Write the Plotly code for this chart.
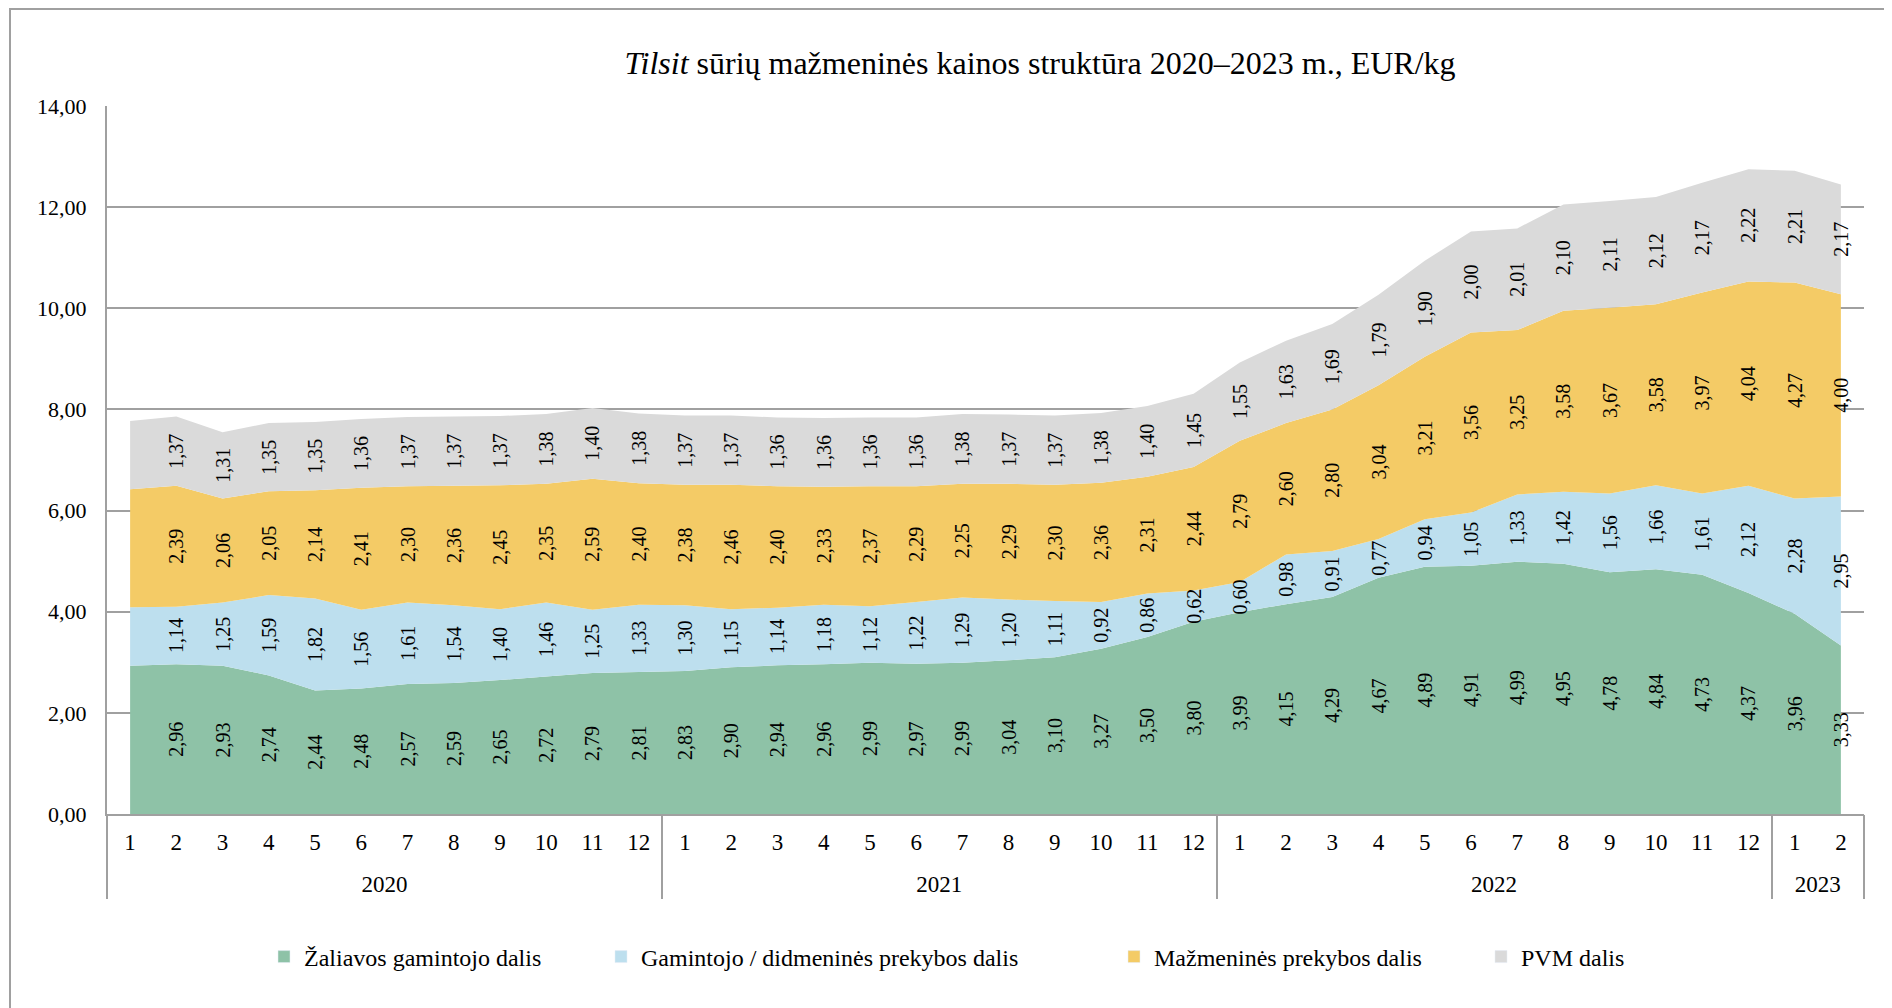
import plotly.graph_objects as go

# the page adds an 8px body margin, so the figure is 8px smaller
W, H = 1884, 1000

years = ["2020"] * 12 + ["2021"] * 12 + ["2022"] * 12 + ["2023"] * 2
months = [str(m) for m in range(1, 13)] * 3 + ["1", "2"]

# EUR/kg by component
zaliava = [2.93, 2.96, 2.93, 2.74, 2.44, 2.48, 2.57, 2.59, 2.65, 2.72, 2.79, 2.81,
           2.83, 2.90, 2.94, 2.96, 2.99, 2.97, 2.99, 3.04, 3.10, 3.27, 3.50, 3.80,
           3.99, 4.15, 4.29, 4.67, 4.89, 4.91, 4.99, 4.95, 4.78, 4.84, 4.73, 4.37,
           3.96, 3.33]
gamintojas = [1.16, 1.14, 1.25, 1.59, 1.82, 1.56, 1.61, 1.54, 1.40, 1.46, 1.25, 1.33,
              1.30, 1.15, 1.14, 1.18, 1.12, 1.22, 1.29, 1.20, 1.11, 0.92, 0.86, 0.62,
              0.60, 0.98, 0.91, 0.77, 0.94, 1.05, 1.33, 1.42, 1.56, 1.66, 1.61, 2.12,
              2.28, 2.95]
mazmenine = [2.33, 2.39, 2.06, 2.05, 2.14, 2.41, 2.30, 2.36, 2.45, 2.35, 2.59, 2.40,
             2.38, 2.46, 2.40, 2.33, 2.37, 2.29, 2.25, 2.29, 2.30, 2.36, 2.31, 2.44,
             2.79, 2.60, 2.80, 3.04, 3.21, 3.56, 3.25, 3.58, 3.67, 3.58, 3.97, 4.04,
             4.27, 4.00]
pvm = [1.35, 1.37, 1.31, 1.35, 1.35, 1.36, 1.37, 1.37, 1.37, 1.38, 1.40, 1.38,
       1.37, 1.37, 1.36, 1.36, 1.36, 1.36, 1.38, 1.37, 1.37, 1.38, 1.40, 1.45,
       1.55, 1.63, 1.69, 1.79, 1.90, 2.00, 2.01, 2.10, 2.11, 2.12, 2.17, 2.22,
       2.21, 2.17]

names = ["Žaliavos gamintojo dalis", "Gamintojo / didmeninės prekybos dalis",
         "Mažmeninės prekybos dalis", "PVM dalis"]
colors = ["#8EC2A7", "#BDDFEE", "#F4CB66", "#DADADA"]
series = [zaliava, gamintojas, mazmenine, pvm]

FONT = "Liberation Serif"
GRID = "#A0A0A0"

idx = list(range(len(months)))
xrange_ = [-0.5, len(months) - 0.5]

# year groups: centre position and boundaries
year_names = list(dict.fromkeys(years))
year_centers = []
bounds = [-0.5]
for y in year_names:
    pos = [i for i, v in enumerate(years) if v == y]
    year_centers.append(sum(pos) / len(pos))
    bounds.append(pos[-1] + 0.5)

fig = go.Figure()

for vals, name, col in zip(series, names, colors):
    fig.add_trace(go.Scatter(
        x=idx, y=vals, stackgroup="one", mode="none",
        fillcolor=col, name=name, showlegend=False, hoverinfo="skip"))

# invisible stacked bars on an overlay axis, only to centre the labels in each band
for vals in series:
    labels = [""] + [f"{v:.2f}".replace(".", ",") for v in vals[1:]]
    fig.add_trace(go.Bar(
        x=idx, y=vals, text=labels, textposition="inside",
        insidetextanchor="middle", textangle=-90, xaxis="x2",
        constraintext="none",
        marker=dict(color="rgba(0,0,0,0)", line=dict(width=0)),
        textfont=dict(family=FONT, size=20, color="black"),
        showlegend=False, hoverinfo="skip", cliponaxis=False))

# legend entries
for i, (name, col) in enumerate(zip(names, colors)):
    lg = "legend" if i == 0 else f"legend{i + 1}"
    fig.add_trace(go.Bar(
        x=[idx[0]], y=[None], name=name, xaxis="x3",
        marker=dict(color=col), legend=lg))

# legend left edges (px in figure)
legend_x = [256, 593, 1106, 1473]
layout_legends = {}
for i, lx in enumerate(legend_x):
    lg = "legend" if i == 0 else f"legend{i + 1}"
    layout_legends[lg] = dict(
        xref="container", yref="container", x=lx / W, y=1 - 949 / H,
        xanchor="left", yanchor="middle", orientation="h",
        font=dict(family=FONT, size=24, color="black"),
        bgcolor="rgba(0,0,0,0)", itemwidth=30)

tickfont = dict(family=FONT, size=23, color="black")

fig.update_layout(
    width=W, height=H,
    margin=dict(l=99, r=28, t=98, b=194),
    paper_bgcolor="white", plot_bgcolor="white",
    separators=", ",
    barmode="stack", bargap=0.2,
    font=dict(family=FONT, size=23, color="black"),
    title=dict(
        text="<i>Tilsit</i> sūrių mažmeninės kainos struktūra 2020–2023 m., EUR/kg",
        font=dict(family=FONT, size=32, color="black"),
        x=1032 / W, xanchor="center", xref="container",
        y=1 - 55 / H, yanchor="middle", yref="container"),
    xaxis=dict(
        range=xrange_, tickvals=idx, ticktext=months, ticks="",
        showline=True, linecolor=GRID, linewidth=2, showgrid=False,
        zeroline=False, ticklabelstandoff=6, tickfont=tickfont),
    xaxis2=dict(
        overlaying="x", anchor="y", side="bottom", range=xrange_,
        tickvals=year_centers, ticktext=year_names, ticks="",
        showline=False, showgrid=False, zeroline=False,
        ticklabelstandoff=54, tickfont=tickfont),
    xaxis3=dict(
        overlaying="x", anchor="y", side="bottom", range=xrange_,
        tickvals=bounds, ticks="outside", ticklen=84, tickwidth=2,
        tickcolor=GRID, showticklabels=False, showline=False,
        showgrid=False, zeroline=False),
    yaxis=dict(
        range=[0, 14], dtick=2, tickformat=".2f", showline=True,
        linecolor=GRID, linewidth=2, showgrid=True,
        gridcolor=GRID, gridwidth=1.5, zeroline=False, ticks="",
        ticklabelstandoff=14,
        tickfont=dict(family=FONT, size=22, color="black")),
    shapes=[dict(type="rect", xref="paper", yref="paper",
                 x0=(2 - 99) / 1757, x1=1.2, y0=-0.5, y1=(806 - 1) / 708,
                 line=dict(color=GRID, width=2), layer="below")],
    **layout_legends,
)

fig.write_html("out.html")
